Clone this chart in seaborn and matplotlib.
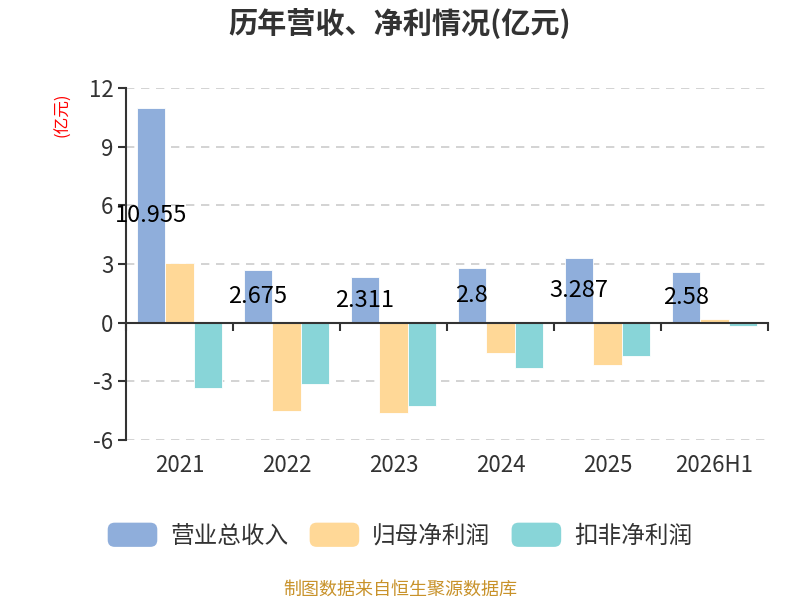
import numpy as np
import pandas as pd
import seaborn as sns
import matplotlib.pyplot as plt
from matplotlib.patches import FancyBboxPatch
from matplotlib.legend_handler import HandlerPatch
from matplotlib.patches import Patch

years = ["2021", "2022", "2023", "2024", "2025", "2026H1"]
revenue = [10.955, 2.675, 2.311, 2.8, 3.287, 2.58]
net_profit = [3.03, -4.54, -4.64, -1.56, -2.14, 0.17]
deducted_profit = [-3.32, -3.13, -4.27, -2.33, -1.68, -0.15]
series_names = ["营业总收入", "归母净利润", "扣非净利润"]
colors = ["#8FAEDB", "#FFD897", "#88D5D8"]

sns.set_theme(style="white")
plt.rcParams["font.family"] = ["Noto Sans CJK SC", "DejaVu Sans"]
plt.rcParams["axes.unicode_minus"] = False

df = pd.DataFrame({
    "year": years * 3,
    "value": revenue + net_profit + deducted_profit,
    "series": [series_names[0]] * 6 + [series_names[1]] * 6 + [series_names[2]] * 6,
})

fig = plt.figure(figsize=(8, 6), dpi=100)
ax = fig.add_axes([0.1575, 0.2667, 0.8025, 0.5866])

sns.barplot(data=df, x="year", y="value", hue="series", palette=colors,
            saturation=1, width=0.8, edgecolor="white", linewidth=0.6,
            legend=False, ax=ax)

# grid and y axis
ax.set_ylim(-6, 12)
ax.set_xlim(-0.5, len(years) - 0.5)
ax.set_yticks(np.arange(-6, 13, 3))
ax.yaxis.grid(True, linestyle=(0, (5, 4)), color="#cccccc", linewidth=1.2)
ax.set_axisbelow(True)
ax.tick_params(axis="y", left=True, labelsize=16, labelcolor="#333333",
               length=6, color="#333333", width=1.5, direction="out", pad=3)
for s in ["top", "right"]:
    ax.spines[s].set_visible(False)
ax.spines["left"].set_color("#333333")
ax.spines["left"].set_linewidth(1.5)

# x axis line sits at zero, ticks on category boundaries
ax.spines["bottom"].set_position(("data", 0))
ax.spines["bottom"].set_color("#333333")
ax.spines["bottom"].set_linewidth(1.5)
ax.set_xticks(np.arange(-0.5, len(years), 1.0))
ax.tick_params(axis="x", bottom=True, labelbottom=False, length=6,
               color="#333333", width=1.5, direction="out")
sec = ax.secondary_xaxis(0)
sec.set_xticks(range(len(years)))
sec.set_xticklabels(years)
sec.tick_params(length=0, labelsize=16, labelcolor="#333333", pad=10)
sec.spines["bottom"].set_visible(False)
ax.set_xlabel("")
ax.set_ylabel("")

# revenue labels at half bar height
rev_bars = ax.containers[0]
for bar, v in zip(rev_bars, revenue):
    ax.text(bar.get_x() + bar.get_width() / 2, v / 2, f"{v:g}",
            ha="center", va="center", fontsize=17, color="black")

fig.text(0.078, 0.808, "(亿元)", color="red", fontsize=12, rotation=90,
         ha="center", va="center")
fig.text(0.5, 0.962, "历年营收、净利情况(亿元)", fontsize=21, fontweight="bold",
         color="#333333", ha="center", va="center")


def rounded(legend, orig_handle, xdescent, ydescent, width, height, fontsize):
    return FancyBboxPatch((-xdescent, -ydescent), width, height,
                          boxstyle="round,pad=0,rounding_size=5")


handles = [Patch(facecolor=c, edgecolor="none") for c in colors]
fig.legend(handles, series_names, loc="center", bbox_to_anchor=(0.5, 0.108),
           ncol=3, frameon=False, fontsize=17, labelcolor="#333333",
           handlelength=2.1, handleheight=1.2, handletextpad=0.55,
           columnspacing=0.9,
           handler_map={Patch: HandlerPatch(patch_func=rounded)})

fig.text(0.5, 0.017, "制图数据来自恒生聚源数据库", color="#C8922A", fontsize=13,
         ha="center", va="center")

fig.savefig("out.png", dpi=100)
